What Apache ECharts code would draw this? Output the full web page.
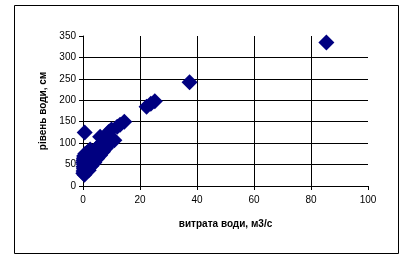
<!DOCTYPE html>
<html>
<head>
<meta charset="utf-8">
<script src="https://cdn.jsdelivr.net/npm/echarts@6/dist/echarts.min.js"></script>
<style>
  html, body { margin: 0; padding: 0; background: #fff; }
  #chart { width: 400px; height: 255px; }
</style>
</head>
<body>
<div id="chart"></div>
<script>
// витрата води (м3/с) і рівень води (см)
const flow = [
  0.1, 0.2, 0.3, 0.2, 0.3, 0.1, 0.2, 0.3, 0.4, 0.5, 0.6, 0.8, 1.0, 1.2, 1.5,
  1.8, 2.0, 2.3, 2.6, 3.0, 3.4, 3.8, 4.3, 4.8, 5.3, 6.0, 6.8, 7.5, 8.3,
  1.0, 1.5, 2.0, 0.8, 2.5, 1.2, 0.5, 1.0,
  2.0, 3.0, 4.0, 5.0, 6.0, 7.0, 8.0, 9.5, 3.5, 4.5, 1.5, 2.8,
  0.6, 6.0, 9.0, 10.0, 11.0, 12.0, 13.0, 14.5, 22.3, 23.8, 25.2, 37.4, 85.4
];
const level = [
  30, 35, 40, 45, 50, 55, 60, 65, 70, 26, 33, 38, 42, 47, 52,
  56, 60, 64, 68, 72, 76, 80, 84, 88, 92, 96, 100, 104, 110,
  60, 70, 80, 75, 85, 65, 55, 50,
  37, 47, 55, 64, 72, 80, 88, 100, 62, 70, 78, 82,
  125, 115, 126, 132, 107, 138, 143, 150, 185, 192, 198, 242, 335
];
const xTicks = [0, 20, 40, 60, 80, 100];
const yTicks = [0, 50, 100, 150, 200, 250, 300, 350];

const points = flow.map((f, i) => [f, level[i]]);
const font = 'Liberation Sans, Arial, sans-serif';

const chart = echarts.init(document.getElementById('chart'));
chart.setOption({
  animation: false,
  graphic: [{
    type: 'rect',
    shape: { x: 14.5, y: 5.5, width: 384, height: 248 },
    style: { fill: 'none', stroke: '#000', lineWidth: 1 },
    silent: true
  }],
  grid: { left: 83, right: 32, top: 36, bottom: 69 },
  xAxis: {
    type: 'value',
    min: xTicks[0],
    max: xTicks[xTicks.length - 1],
    interval: 20,
    name: 'витрата води, м3/с',
    nameLocation: 'middle',
    nameGap: 33,
    nameTextStyle: { fontFamily: font, fontSize: 10, fontWeight: 'bold', color: '#000' },
    axisLine: { show: true, lineStyle: { color: '#000', width: 1 } },
    axisTick: { show: true, length: 4, lineStyle: { color: '#000' } },
    axisLabel: { fontFamily: font, fontSize: 10, color: '#000', margin: 9 },
    splitLine: { show: true, showMinLine: false, showMaxLine: false, lineStyle: { color: '#000', width: 1 } }
  },
  yAxis: {
    type: 'value',
    min: yTicks[0],
    max: yTicks[yTicks.length - 1],
    interval: 50,
    name: 'рівень води, см',
    nameLocation: 'middle',
    nameGap: 34,
    nameTextStyle: { fontFamily: font, fontSize: 10, fontWeight: 'bold', color: '#000' },
    axisLine: { show: true, lineStyle: { color: '#000', width: 1 } },
    axisTick: { show: true, length: 4, lineStyle: { color: '#000' } },
    axisLabel: { fontFamily: font, fontSize: 10, color: '#000', margin: 7 },
    splitLine: { show: true, showMinLine: false, showMaxLine: false, lineStyle: { color: '#000', width: 1 } }
  },
  series: [{
    type: 'scatter',
    symbol: 'diamond',
    symbolSize: 16,
    itemStyle: { color: '#000080', opacity: 1 },
    data: points
  }]
});
</script>
</body>
</html>
